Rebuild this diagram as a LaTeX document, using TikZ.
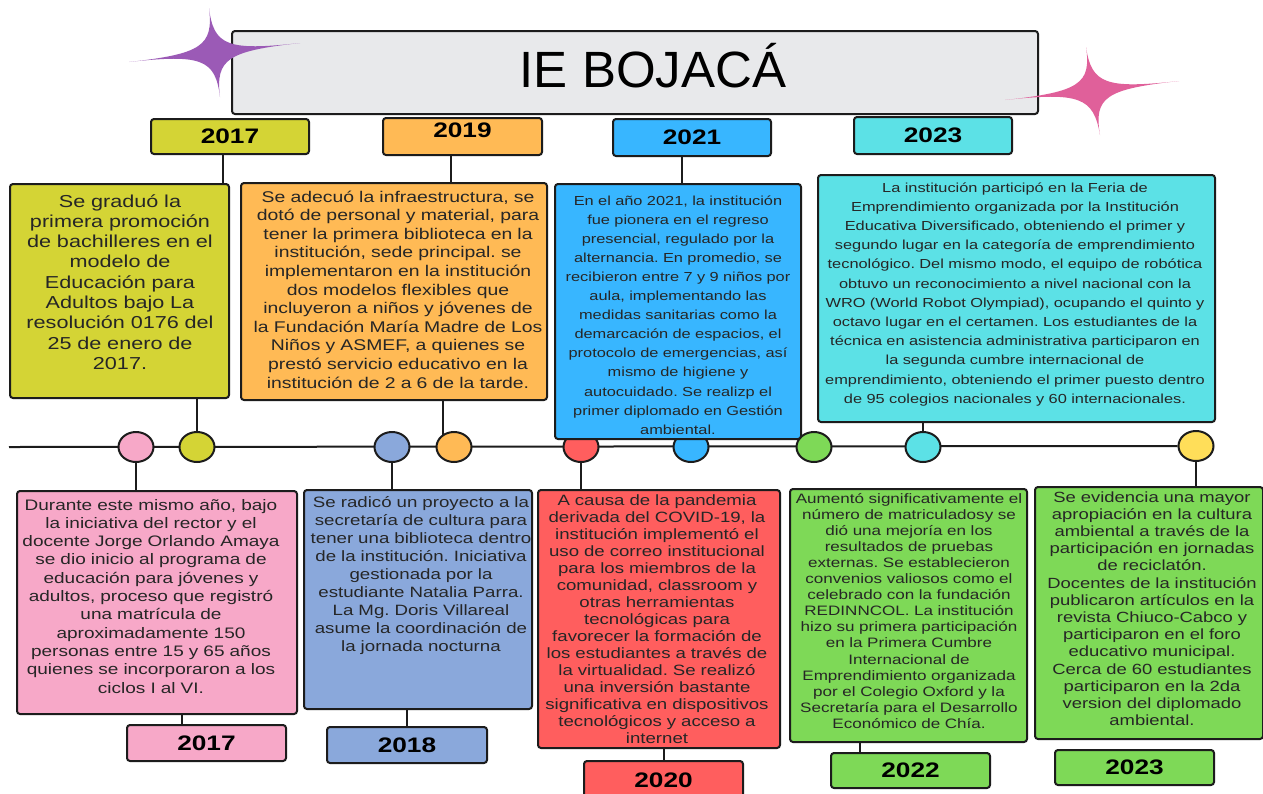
\documentclass[tikz,border=0pt]{standalone}
\usepackage{fontspec}
\setmainfont{Liberation Sans}[FakeStretch=1.25]
\newfontfamily\titlefont{Liberation Sans}
\usepackage{tikz}
\usetikzlibrary{shapes.geometric}
\usetikzlibrary{calc}
\pgfdeclarelayer{tlback}
\pgfsetlayers{tlback,main}
\frenchspacing
\definecolor{linec}{HTML}{1C1C1C}
\definecolor{txtc}{HTML}{262626}
\definecolor{cTitle}{HTML}{E8E9EB}
\definecolor{cOlive}{HTML}{D4D435}
\definecolor{cOrange}{HTML}{FFBA55}
\definecolor{cBlue}{HTML}{38B6FF}
\definecolor{cCyan}{HTML}{5CE1E6}
\definecolor{cPink}{HTML}{F7A8C8}
\definecolor{cSlate}{HTML}{8AA8DB}
\definecolor{cRed}{HTML}{FF5E5E}
\definecolor{cGreen}{HTML}{7ED957}
\definecolor{cYellow}{HTML}{FFDE59}
\definecolor{cStarA}{HTML}{9B5AB6}
\definecolor{cStarB}{HTML}{E0609A}
\begin{document}
\begin{tikzpicture}[x=1pt, y=-1pt,
	card/.style={draw=linec, line width=2, rounded corners=3, anchor=north west, inner sep=0},
	yearbox/.style={card, font=\bfseries\fontsize{21}{21}\selectfont, text=black},
	cardtxt/.style={anchor=base, align=center, inner sep=0, text=txtc},
	dot/.style={ellipse, draw=linec, line width=2, minimum width=35, minimum height=30, inner sep=0},
	conn/.style={draw=linec, line width=2}]
			\useasboundingbox (0,0) rectangle (1263,793);
			\clip (0,0) rectangle (1263,793);
			% title and stars
			\node at (231,30) (title) [card, fill=cTitle, minimum width=806, minimum height=83] {};
			\node at (653,87) (titletx) [anchor=base, inner sep=0] {\titlefont\fontsize{51}{51}\selectfont IE BOJACÁ};
			\coordinate (sAc) at (214.5,52.5); \coordinate (sAt) at (209,8); \coordinate (sAr) at (300,43); \coordinate (sAb) at (220,97); \coordinate (sAl) at (129,62);
			\fill[cStarA] (sAt) .. controls ($(sAc)!0.15!(sAt)$) and ($(sAc)!0.15!(sAr)$) .. (sAr) .. controls ($(sAc)!0.15!(sAr)$) and ($(sAc)!0.15!(sAb)$) .. (sAb) .. controls ($(sAc)!0.15!(sAb)$) and ($(sAc)!0.15!(sAl)$) .. (sAl) .. controls ($(sAc)!0.15!(sAl)$) and ($(sAc)!0.15!(sAt)$) .. (sAt) -- cycle;
			\coordinate (sBc) at (1092.5,90.5); \coordinate (sBt) at (1086,47); \coordinate (sBr) at (1179,81); \coordinate (sBb) at (1100,135); \coordinate (sBl) at (1005,100);
			\fill[cStarB] (sBt) .. controls ($(sBc)!0.15!(sBt)$) and ($(sBc)!0.15!(sBr)$) .. (sBr) .. controls ($(sBc)!0.15!(sBr)$) and ($(sBc)!0.15!(sBb)$) .. (sBb) .. controls ($(sBc)!0.15!(sBb)$) and ($(sBc)!0.15!(sBl)$) .. (sBl) .. controls ($(sBc)!0.15!(sBl)$) and ($(sBc)!0.15!(sBt)$) .. (sBt) -- cycle;
			% axis dots
			\coordinate (axstart) at (9,447);
			\node at (136,447) (dot17b) [dot, fill=cPink] {};
			\node at (197,447) (dot17a) [dot, fill=cOlive] {};
			\node at (392,447) (dot18) [dot, fill=cSlate] {};
			\node at (454,447) (dot19) [dot, fill=cOrange] {};
			\node at (581,447) (dot20) [dot, fill=cRed] {};
			\node at (691,447) (dot21) [dot, fill=cBlue] {};
			\node at (814,447) (dot22) [dot, fill=cGreen] {};
			\node at (923,447) (dot23a) [dot, fill=cCyan] {};
			\node at (1196,446) (dot23b) [dot, fill=cYellow] {};
			% upper row
			\node at (150,118) (yr17a) [yearbox, fill=cOlive, minimum width=158, minimum height=35] {2017};
			\node at (382,117) (yr19) [yearbox, fill=cOrange, minimum width=159, minimum height=37] {\raisebox{0pt}[\height][12pt]{2019}};
			\node at (612,118) (yr21) [yearbox, fill=cBlue, minimum width=158, minimum height=37] {2021};
			\node at (853,116) (yr23a) [yearbox, fill=cCyan, minimum width=158, minimum height=37] {2023};
			\node at (9,183) (bx17a) [card, fill=cOlive, minimum width=219, minimum height=214] {};
			\node at (240,182) (bx19) [card, fill=cOrange, minimum width=306, minimum height=217] {};
			\node at (554,183) (bx21) [card, fill=cBlue, minimum width=246, minimum height=255] {};
			\node at (817,174) (bx23a) [card, fill=cCyan, minimum width=397, minimum height=247] {};
			\node at (120,207) (tx17a) [cardtxt, text width=250, font=\fontsize{17.3}{20.3}\selectfont] {Se graduó la\\primera promoción\\de bachilleres en el\\modelo de\\Educación para\\Adultos bajo  La\\resolución 0176 del\\25 de enero de\\2017.};
			\node at (398,202) (tx19) [cardtxt, text width=336, font=\fontsize{15.5}{18.6}\selectfont] {Se adecuó la infraestructura, se\\dotó de personal y material, para\\tener la primera biblioteca en la\\institución, sede principal.  se\\implementaron en la institución\\dos modelos flexibles que\\incluyeron a niños y jóvenes de\\la Fundación María Madre de Los\\Niños y ASMEF, a quienes se\\prestó servicio educativo en la\\institución de 2 a 6 de la tarde.};
			\node at (678,205) (tx21) [cardtxt, text width=276, font=\fontsize{13.1}{19.1}\selectfont] {En el año 2021, la institución\\fue pionera en el regreso\\presencial, regulado por la\\alternancia. En promedio, se\\recibieron entre 7 y 9 niños por\\aula, implementando las\\medidas sanitarias como la\\demarcación de espacios, el\\protocolo de emergencias, así\\mismo de higiene y\\autocuidado. Se realizp el\\primer diplomado en Gestión\\ambiental.};
			\node at (1015,192) (tx23a) [cardtxt, text width=427, font=\fontsize{13.1}{19.2}\selectfont] {La institución participó en la Feria de\\Emprendimiento organizada por la Institución\\Educativa Diversificado, obteniendo el primer y\\segundo lugar en la categoría de emprendimiento\\tecnológico. Del mismo modo, el equipo de robótica\\obtuvo un reconocimiento a nivel nacional con la\\WRO (World Robot Olympiad), ocupando el quinto y\\octavo lugar en el certamen. Los estudiantes de la\\técnica en asistencia administrativa participaron en\\la segunda cumbre internacional de\\emprendimiento, obteniendo el primer puesto dentro\\de 95 colegios nacionales y 60 internacionales.};
			% lower row
			\node at (16,490) (bx17b) [card, fill=cPink, minimum width=280, minimum height=223] {};
			\node at (303,489) (bx18) [card, fill=cSlate, minimum width=228, minimum height=219] {};
			\node at (537,489) (bx20) [card, fill=cRed, minimum width=242, minimum height=258] {};
			\node at (789,488) (bx22) [card, fill=cGreen, minimum width=237, minimum height=253] {};
			\node at (1034,486) (bx23b) [card, fill=cGreen, minimum width=228, minimum height=252] {};
			\node at (151,510) (tx17b) [cardtxt, text width=310, font=\fontsize{15.2}{18.3}\selectfont] {Durante este mismo año, bajo\\la iniciativa del rector y el\\docente Jorge Orlando Amaya\\se dio inicio al programa de\\educación para jóvenes y\\adultos, proceso que registró\\una matrícula de\\aproximadamente 150\\personas entre 15 y 65 años\\quienes se incorporaron a los\\ciclos I al VI.};
			\node at (421,507) (tx18) [cardtxt, text width=258, font=\fontsize{14.95}{18.1}\selectfont] {Se radicó un proyecto a la\\secretaría de cultura para\\tener una biblioteca dentro\\de la institución. Iniciativa\\gestionada por la\\estudiante Natalia Parra.\\La Mg. Doris Villareal\\asume la coordinación de\\la jornada nocturna};
			\node at (657,505) (tx20) [cardtxt, text width=272, font=\fontsize{14.9}{17}\selectfont] {A causa de la pandemia\\derivada del COVID-19, la\\institución implementó el\\uso de correo institucional\\para los miembros de la\\comunidad, classroom y\\otras herramientas\\tecnológicas para\\favorecer la formación de\\los estudiantes a través de\\la virtualidad. Se realizó\\una inversión bastante\\significativa en dispositivos\\tecnológicos y acceso a\\internet};
			\node at (909,503) (tx22) [cardtxt, text width=267, font=\fontsize{13.65}{16.1}\selectfont] {Aumentó significativamente el\\número de matriculadosy se\\dió una mejoría en los\\resultados de pruebas\\externas. Se establecieron\\convenios valiosos como el\\celebrado con la fundación\\REDINNCOL. La institución\\hizo su primera participación\\en la Primera Cumbre\\Internacional de\\Emprendimiento organizada\\por el Colegio Oxford y la\\Secretaría para el Desarrollo\\Económico de Chía.};
			\node at (1152,502) (tx23b) [cardtxt, text width=258, font=\fontsize{14.75}{17.2}\selectfont] {Se evidencia una mayor\\apropiación en la cultura\\ambiental a través de la\\participación en jornadas\\de  reciclatón.\\Docentes de la institución\\publicaron artículos en la\\revista Chiuco-Cabco y\\participaron en el foro\\educativo municipal.\\Cerca de 60 estudiantes\\participaron en la 2da\\version del diplomado\\ambiental.};
			\node at (126,724) (yr17b) [yearbox, fill=cPink, minimum width=159, minimum height=36] {2017};
			\node at (326,726) (yr18) [yearbox, fill=cSlate, minimum width=160, minimum height=36] {2018};
			\node at (583,760) (yr20) [yearbox, fill=cRed, minimum width=159, minimum height=38] {2020};
			\node at (830,752) (yr22) [yearbox, fill=cGreen, minimum width=159, minimum height=35] {2022};
			\node at (1054,749) (yr23b) [yearbox, fill=cGreen, minimum width=159, minimum height=35] {2023};
			% connectors behind everything
			\begin{pgfonlayer}{tlback}
			\fill[white] (0,0) rectangle (1263,793);
			\draw[conn] (axstart) -- (dot23b);
			\coordinate (k17a) at ([xshift=-7]yr17a.south); \draw[conn] (k17a) -- (k17a |- bx17a.north);
			\coordinate (k19) at ([xshift=-12]yr19.south); \draw[conn] (k19) -- (k19 |- bx19.north);
			\coordinate (k21) at ([xshift=-10]yr21.south); \draw[conn] (k21) -- (k21 |- bx21.north);
			\draw[conn] (dot17a) -- (dot17a |- bx17a.south);
			\coordinate (k19b) at ([xshift=-11]dot19.center); \draw[conn] (k19b) -- (k19b |- bx19.south);
			\draw[conn] (dot23a) -- (dot23a |- bx23a.south);
			\draw[conn] (dot17b) -- (dot17b |- bx17b.north);
			\draw[conn] (dot18) -- (dot18 |- bx18.north);
			\draw[conn] (dot20) -- (dot20 |- bx20.north);
			\draw[conn] (dot23b) -- (dot23b |- bx23b.north);
			\coordinate (k17b) at ([xshift=-25]yr17b.north); \draw[conn] (k17b) -- (k17b |- bx17b.south);
			\draw[conn] (yr18) -- (yr18 |- bx18.south);
			\draw[conn] (yr20) -- (yr20 |- bx20.south);
			\coordinate (k22) at ([xshift=-51]yr22.north); \draw[conn] (k22) -- (k22 |- bx22.south);
			\end{pgfonlayer}
\end{tikzpicture}
\end{document}
